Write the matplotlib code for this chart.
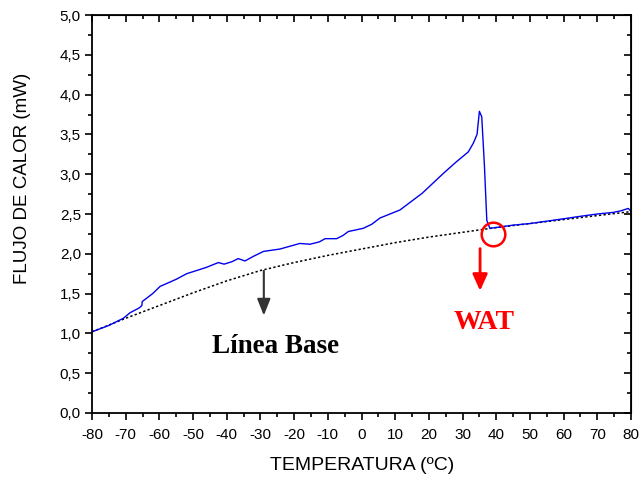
import numpy as np
import matplotlib.pyplot as plt
from matplotlib.ticker import MultipleLocator, FuncFormatter

# DSC curve
temp = [-80, -75, -70.7, -68.7, -66, -65.2, -65.1, -62, -59.8, -55, -51.9, -46, -42.5,
        -40.8, -38.5, -36.6, -34.6, -32, -29.1, -24.2, -18.3, -15.3, -12.5, -10.8, -7.4,
        -5.5, -3.9, 0.5, 3, 5.5, 11.4, 18, 24.3, 28, 31.7, 33.2, 34.3, 35, 35.7, 36.5,
        37.2, 38.1, 40, 45, 50, 55, 60, 64.8, 70, 74.7, 77, 79.2, 79.9, 80]
flujo = [1.02, 1.10, 1.19, 1.26, 1.32, 1.35, 1.40, 1.50, 1.59, 1.68, 1.75, 1.83, 1.89,
         1.87, 1.90, 1.94, 1.91, 1.97, 2.03, 2.06, 2.13, 2.12, 2.15, 2.19, 2.19,
         2.23, 2.28, 2.32, 2.37, 2.45, 2.55, 2.76, 3.01, 3.15, 3.28, 3.39, 3.50, 3.79, 3.72, 3.10,
         2.42, 2.32, 2.33, 2.36, 2.38, 2.41, 2.44, 2.47, 2.50, 2.52, 2.54, 2.57, 2.54, 2.50]

# baseline (dotted)
base_t = [-80, -70, -60, -50, -40, -30, -20, -10, 0, 10, 20, 30, 40, 50, 60, 70, 80]
base_f = [1.02, 1.19, 1.35, 1.51, 1.66, 1.79, 1.89, 1.98, 2.06, 2.14, 2.21, 2.27, 2.33,
          2.38, 2.43, 2.48, 2.53]

fig = plt.figure(figsize=(6.4, 4.78), dpi=100)
ax = fig.add_axes([0.1438, 0.136, 0.8421, 0.8326])

ax.plot(base_t, base_f, color='black', linestyle=(0, (1.5, 1.5)), linewidth=1.1)
ax.plot(temp, flujo, color='#0000ee', linewidth=1.0)

ax.set_xlim(-80, 80)
ax.set_ylim(0, 5)
ax.xaxis.set_major_locator(MultipleLocator(10))
ax.xaxis.set_minor_locator(MultipleLocator(5))
ax.yaxis.set_major_locator(MultipleLocator(0.5))
ax.yaxis.set_minor_locator(MultipleLocator(0.25))
ax.yaxis.set_major_formatter(FuncFormatter(lambda v, p: f"{v:.1f}".replace('.', ',')))
ax.xaxis.set_major_formatter(FuncFormatter(lambda v, p: f"{v:.0f}"))

for s in ax.spines.values():
    s.set_linewidth(1.3)
ax.tick_params(which='both', direction='out', width=1.2, labelsize=11, pad=3,
               top=False, right=False)
ax.tick_params(axis='x', which='major', pad=6)
ax.tick_params(which='major', length=5)
ax.tick_params(which='minor', length=3)
for lab in ax.get_xticklabels() + ax.get_yticklabels():
    lab.set_family('Liberation Sans')

# mirrored inner ticks on top/right
axt = ax.secondary_xaxis('top')
axt.xaxis.set_major_locator(MultipleLocator(10))
axt.xaxis.set_minor_locator(MultipleLocator(5))
axt.tick_params(which='both', direction='in', labeltop=False, width=1.2)
axt.tick_params(which='major', length=5)
axt.tick_params(which='minor', length=3)
axr = ax.secondary_yaxis('right')
axr.yaxis.set_major_locator(MultipleLocator(0.5))
axr.yaxis.set_minor_locator(MultipleLocator(0.25))
axr.tick_params(which='both', direction='in', labelright=False, width=1.2)
axr.tick_params(which='major', length=5)
axr.tick_params(which='minor', length=3)

fig.text(362 / 640, 1 - 465 / 478, 'TEMPERATURA (ºC)', family='Liberation Sans',
         fontsize=14, ha='center', va='center')
fig.text(23 / 640, 1 - 178 / 478, 'FLUJO DE CALOR (mW)', family='Liberation Sans',
         fontsize=13.5, ha='center', va='center', rotation=90)

# annotations
ax.plot([39.1], [2.25], marker='o', markersize=17, markerfacecolor='none',
        markeredgecolor='red', markeredgewidth=1.8)
ax.annotate('', xy=(35.2, 1.50), xytext=(35.2, 2.10),
            arrowprops=dict(arrowstyle='-|>,head_width=0.45,head_length=1.0',
                            color='red', lw=2))
ax.text(36.5, 1.14, 'WAT', color='red', fontsize=20, fontweight='bold',
        family='Liberation Serif', ha='center', va='center')

ax.annotate('', xy=(-29, 1.19), xytext=(-29, 1.82),
            arrowprops=dict(arrowstyle='-|>,head_width=0.4,head_length=1.0',
                            color='#333333', lw=1.5))
ax.text(-25.4, 0.83, 'Línea Base', color='black', fontsize=19.5, fontweight='bold',
        family='Liberation Serif', ha='center', va='center')

fig.savefig('out.png', dpi=100)
